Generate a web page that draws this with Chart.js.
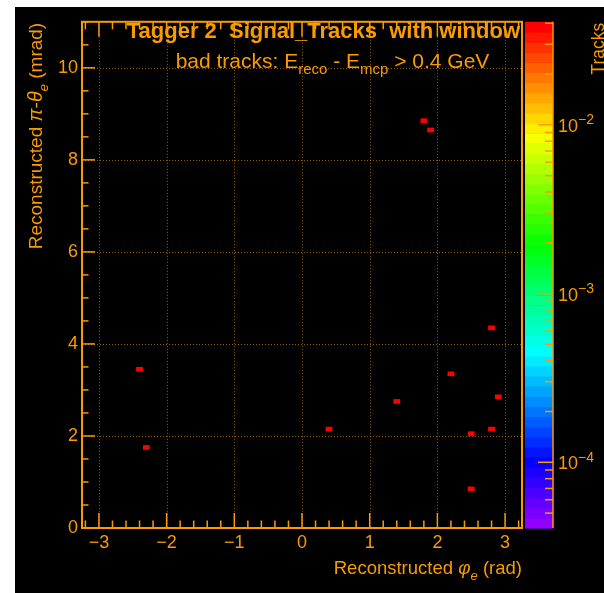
<!DOCTYPE html>
<html><head><meta charset="utf-8">
<script src="https://cdn.jsdelivr.net/npm/chart.js@4.4.1/dist/chart.umd.min.js"></script>
<style>
html,body{margin:0;padding:0;background:#fff;width:604px;height:593px;overflow:hidden}
#wrap{position:absolute;left:15px;top:7px;width:589px;height:586px;background:#000}
canvas{display:block}
</style></head><body>
<div id="wrap"><canvas id="c" width="589" height="586"></canvas></div>
<script>
// ---- data (2D histogram bins) ----
const phiBins   = [1.8, 1.9, 2.8, -2.4, 2.2, 2.9, 1.4, 0.4, 2.8, 2.5, -2.3, 2.5];
const thetaBins = [8.85, 8.65, 4.35, 3.45, 3.35, 2.85, 2.75, 2.15, 2.15, 2.05, 1.75, 0.85];
const binContent = [0.0408, 0.0408, 0.0408, 0.0408, 0.0408, 0.0408, 0.0408, 0.0408, 0.0408, 0.0408, 0.0408, 0.0408];
const binWidthPhi = 0.1;
const binWidthTheta = 0.1;
const xRange = [-3.25, 3.25];
const yRange = [0, 11];
const zRange = [4.08e-5, 0.0408];
const xTickLabels = [-3, -2, -1, 0, 1, 2, 3];
const yTickLabels = [0, 2, 4, 6, 8, 10];
const zTickLabels = [1e-4, 1e-3, 1e-2];
const titleText = 'Tagger 2  Signal_Tracks  with window';

const ORANGE = 'rgb(250,155,0)';
const FONT = '"Liberation Sans", Arial, Helvetica, sans-serif';
const NCOL = 50;
function paletteColor(i){ const hue = 280 - (i+1)*(280/NCOL); return 'hsl('+hue+',100%,50%)'; }
function colorIndex(z){
  const f = (Math.log10(z)-Math.log10(zRange[0]))/(Math.log10(zRange[1])-Math.log10(zRange[0]));
  return Math.max(0, Math.min(NCOL-1, Math.floor(f*NCOL - 1e-9)));
}
function isIn(list, v){ return list.some(t => Math.abs(t - v) < 1e-6); }
function fmt(v){ return v < 0 ? '\u2212' + Math.abs(v) : String(v); }

function drawRich(ctx, parts, x, y, align){
  let w = 0;
  for (const p of parts){ ctx.font = p.font; w += ctx.measureText(p.t).width; }
  let cx = align === 'right' ? x - w : align === 'center' ? x - w/2 : x;
  ctx.textAlign = 'left'; ctx.textBaseline = 'alphabetic';
  for (const p of parts){ ctx.font = p.font; ctx.fillText(p.t, cx, y + (p.dy||0)); cx += ctx.measureText(p.t).width; }
}

const rootPlugin = {
  id: 'rootStyle',
  afterDraw(chart){
    const ctx = chart.ctx, a = chart.chartArea;
    const xs = chart.scales.x, ys = chart.scales.y, zs = chart.scales.z;
    ctx.save();
    // dotted grid
    ctx.strokeStyle = 'rgba(190,115,0,0.8)'; ctx.lineWidth = 1; ctx.setLineDash([1,2]);
    for (const v of xTickLabels){ const px = Math.round(xs.getPixelForValue(v)) + 0.5;
      ctx.beginPath(); ctx.moveTo(px, a.top); ctx.lineTo(px, a.bottom); ctx.stroke(); }
    for (const v of yTickLabels){ if (v === 0) continue; const py = Math.round(ys.getPixelForValue(v)) + 0.5;
      ctx.beginPath(); ctx.moveTo(a.left, py); ctx.lineTo(a.right, py); ctx.stroke(); }
    ctx.setLineDash([]);
    // bins
    chart.data.datasets[0].data.forEach((d) => {
      const x0 = xs.getPixelForValue(d.x - binWidthPhi/2), x1 = xs.getPixelForValue(d.x + binWidthPhi/2);
      const y0 = ys.getPixelForValue(d.y + binWidthTheta/2), y1 = ys.getPixelForValue(d.y - binWidthTheta/2);
      ctx.fillStyle = paletteColor(colorIndex(d.z));
      ctx.fillRect(x0, y0, x1 - x0, y1 - y0);
    });
    // frame
    ctx.strokeStyle = ORANGE; ctx.lineWidth = 2;
    ctx.strokeRect(a.left, a.top, a.right - a.left, a.bottom - a.top);
    // inner tick marks
    ctx.lineWidth = 1.5;
    for (const t of xs.ticks){ const px = xs.getPixelForValue(t.value); const len = isIn(xTickLabels, t.value) ? 15 : 7.5;
      ctx.beginPath(); ctx.moveTo(px, a.bottom); ctx.lineTo(px, a.bottom - len); ctx.moveTo(px, a.top); ctx.lineTo(px, a.top + len); ctx.stroke(); }
    for (const t of ys.ticks){ const py = ys.getPixelForValue(t.value); const len = isIn(yTickLabels, t.value) ? 13 : 6.5;
      ctx.beginPath(); ctx.moveTo(a.left, py); ctx.lineTo(a.left + len, py); ctx.stroke(); }
    // colour bar
    const cbL = a.right + 3, cbR = a.right + 31;
    const lz0 = Math.log10(zRange[0]), lz1 = Math.log10(zRange[1]);
    for (let i = 0; i < NCOL; i++){
      const v0 = Math.pow(10, lz0 + (lz1-lz0)*i/NCOL), v1 = Math.pow(10, lz0 + (lz1-lz0)*(i+1)/NCOL);
      const p0 = zs.getPixelForValue(v1), p1 = zs.getPixelForValue(v0);
      ctx.fillStyle = paletteColor(i);
      ctx.fillRect(cbL, p0, cbR - cbL, p1 - p0 + 0.6);
    }
    ctx.strokeStyle = ORANGE; ctx.lineWidth = 1.5;
    ctx.beginPath(); ctx.moveTo(cbR, zs.top); ctx.lineTo(cbR, zs.bottom); ctx.stroke();
    for (let n = -6; n <= 0; n++){
      for (let k = 1; k <= 9; k++){
        const v = k * Math.pow(10, n);
        if (v < zRange[0] || v > zRange[1]) continue;
        const py = zs.getPixelForValue(v); const len = k === 1 ? 15 : 8;
        ctx.beginPath(); ctx.moveTo(cbR - len, py); ctx.lineTo(cbR, py); ctx.stroke();
      }
    }
    ctx.fillStyle = ORANGE;
    for (const v of zTickLabels){
      const e = Math.round(Math.log10(v)); const py = zs.getPixelForValue(v);
      drawRich(ctx, [
        {t: '10', font: '18px ' + FONT},
        {t: '\u2212' + Math.abs(e), font: '14px ' + FONT, dy: -7.5}
      ], cbR + 5, py + 7, 'left');
    }
    // titles
    drawRich(ctx, [{t: titleText, font: 'bold 22px ' + FONT}], a.right - 2, 31, 'right');
    drawRich(ctx, [
      {t: 'bad tracks: E', font: '21px ' + FONT},
      {t: 'reco', font: '15px ' + FONT, dy: 6},
      {t: ' - E', font: '21px ' + FONT},
      {t: 'mcp', font: '15px ' + FONT, dy: 6},
      {t: ' > 0.4 GeV', font: '21px ' + FONT}
    ], 317.5, 60.5, 'center');
    // x title
    drawRich(ctx, [
      {t: 'Reconstructed ', font: '18.5px ' + FONT},
      {t: '\u03c6', font: 'italic 19px ' + FONT},
      {t: 'e', font: 'italic 13px ' + FONT, dy: 6.5},
      {t: ' (rad)', font: '18.5px ' + FONT}
    ], a.right, 566.5, 'right');
    // y title (rotated)
    ctx.save(); ctx.translate(26.5, a.top + 1); ctx.rotate(-Math.PI/2);
    drawRich(ctx, [
      {t: 'Reconstructed ', font: '19px ' + FONT},
      {t: '\u03c0', font: 'italic 19.5px ' + FONT},
      {t: '-', font: '19px ' + FONT},
      {t: '\u03b8', font: 'italic 19.5px ' + FONT},
      {t: 'e', font: 'italic 13.5px ' + FONT, dy: 6.5},
      {t: ' (mrad)', font: '19px ' + FONT}
    ], 0, 0, 'right');
    ctx.restore();
    // colour bar title
    ctx.save(); ctx.translate(588.5, a.top + 1); ctx.rotate(-Math.PI/2);
    drawRich(ctx, [{t: 'Tracks', font: '17.5px ' + FONT}], 0, 0, 'right');
    ctx.restore();
    ctx.restore();
  }
};

new Chart(document.getElementById('c').getContext('2d'), {
  type: 'scatter',
  data: { datasets: [{
    label: 'Signal_Tracks',
    data: phiBins.map((x, i) => ({x: x, y: thetaBins[i], z: binContent[i]})),
    pointRadius: 0, pointHoverRadius: 0, backgroundColor: 'red'
  }]},
  options: {
    responsive: false, animation: false, devicePixelRatio: 1,
    layout: { padding: { top: 12, left: 0, right: 0, bottom: 0 } },
    plugins: { legend: { display: false }, tooltip: { enabled: false }, title: { display: false } },
    events: [],
    scales: {
      x: {
        type: 'linear', position: 'bottom', min: xRange[0], max: xRange[1],
        afterFit(s){ s.height = 65; },
        grid: { display: false, drawTicks: false }, border: { display: false },
        ticks: { stepSize: 0.2, includeBounds: false, autoSkip: false, maxRotation: 0, padding: 4,
          color: ORANGE, font: { family: FONT, size: 18 },
          callback: (v) => isIn(xTickLabels, v) ? fmt(Math.round(v)) : '' }
      },
      y: {
        type: 'linear', position: 'left', min: yRange[0], max: yRange[1],
        afterFit(s){ s.width = 67; },
        grid: { display: false, drawTicks: false }, border: { display: false },
        ticks: { stepSize: 0.5, includeBounds: false, autoSkip: false, padding: 4,
          color: ORANGE, font: { family: FONT, size: 18 },
          callback: (v) => isIn(yTickLabels, v) ? String(Math.round(v)) : '' }
      },
      z: {
        type: 'logarithmic', position: 'right', min: zRange[0], max: zRange[1],
        afterFit(s){ s.width = 82; },
        grid: { display: false, drawTicks: false }, border: { display: false },
        ticks: { display: false }
      }
    }
  },
  plugins: [rootPlugin]
});
</script>
</body></html>
